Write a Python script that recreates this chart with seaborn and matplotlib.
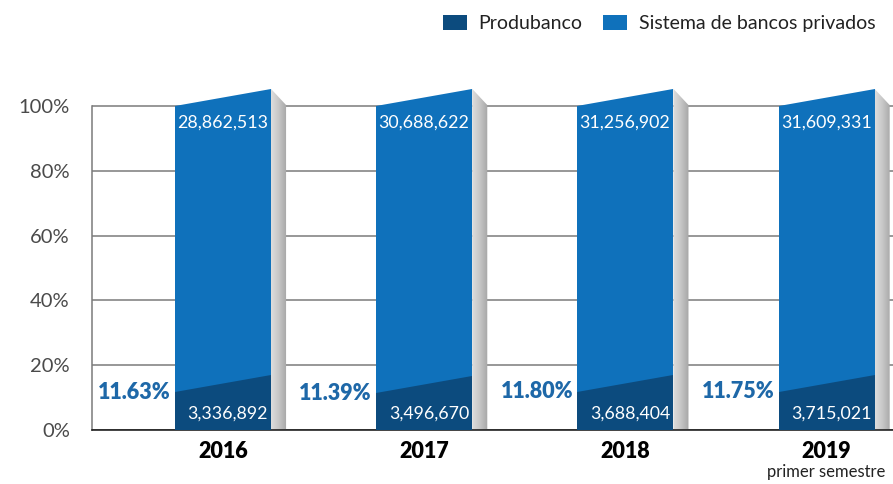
import numpy as np
import matplotlib
matplotlib.use("Agg")
import matplotlib.pyplot as plt
from matplotlib.patches import Polygon, Patch
from matplotlib.colors import LinearSegmentedColormap
import seaborn as sns
import pandas as pd

# ---- data ----
years = ["2016", "2017", "2018", "2019"]
produbanco_pct = [11.63, 11.39, 11.80, 11.75]
produbanco_vals = ["3,336,892", "3,496,670", "3,688,404", "3,715,021"]
sistema_vals = ["28,862,513", "30,688,622", "31,256,902", "31,609,331"]
total_pct = [100, 100, 100, 100]
subtitle_2019 = "primer semestre"
legend_labels = ["Produbanco", "Sistema de bancos privados"]

# ---- style ----
sns.set_theme(style="white")
plt.rcParams["font.family"] = ["Lato", "DejaVu Sans"]

C_DARK = "#0c4b7e"
C_BLUE = "#0f71bb"
C_PCT = "#1e68a8"
C_GRID = "#7a7a7a"

df = pd.DataFrame({"year": years, "total": total_pct, "prod": produbanco_pct})

fig = plt.figure(figsize=(8.93, 4.84), dpi=100)
W, H = 893, 484
px = 3.24  # pixels per percent
ax = fig.add_axes([92 / W, (H - 430) / H, 1 - 92 / W, 110 * px / H])

BW = 0.477
SIDE = 0.075
RISE = 5.3

sns.barplot(data=df, x="year", y="total", color=C_BLUE, width=BW, ax=ax,
            saturation=1, linewidth=0, zorder=2)
sns.barplot(data=df, x="year", y="prod", color=C_DARK, width=BW, ax=ax,
            saturation=1, linewidth=0, zorder=3)

grad = np.linspace(0, 1, 64).reshape(1, -1)
gcmap = LinearSegmentedColormap.from_list("g", ["#dedede", "#c6c6c6", "#a6a6a6"])

for i, p in enumerate(produbanco_pct):
    x0, x1 = i - BW / 2, i + BW / 2
    # slanted top of the big bar
    ax.add_patch(Polygon([(x0, 99.9), (x1, 99.9), (x1, 100 + RISE)], closed=True,
                         facecolor=C_BLUE, edgecolor="none", zorder=2.5))
    # slanted top of the dark segment
    ax.add_patch(Polygon([(x0, p), (x1, p), (x1, p + RISE)], closed=True,
                         facecolor=C_DARK, edgecolor="none", zorder=3.5))
    # side face with gradient
    side = Polygon([(x1, 0), (x1, 100 + RISE), (x1 + SIDE, 100.3), (x1 + SIDE, 0)],
                   closed=True, facecolor="none", edgecolor="none", zorder=2.4)
    ax.add_patch(side)
    im = ax.imshow(grad, extent=(x1, x1 + SIDE, 0, 100 + RISE), cmap=gcmap,
                   aspect="auto", zorder=2.4)
    im.set_clip_path(side)
    # labels
    ax.text(x1 - 0.015, 94.8, sistema_vals[i], ha="right", va="center",
            color="white", fontsize=12.8, zorder=5)
    ax.text(x1 - 0.015, 5.0, produbanco_vals[i], ha="right", va="center",
            color="white", fontsize=12.8, zorder=5)
    ax.text(i - 0.44, p, f"{p:.2f}%", ha="center", va="center",
            color=C_PCT, fontsize=15.5, fontweight="heavy", zorder=5)

ax.set_xlim(-0.651, 3.33)
ax.set_ylim(0, 110)
ax.set_yticks([0, 20, 40, 60, 80, 100])
ax.set_yticklabels([f"{v}%" for v in [0, 20, 40, 60, 80, 100]],
                   fontsize=14.5, color="#4a4a4a")
ax.set_xticks(range(len(years)))
ax.set_xticklabels(years, fontsize=15.5, fontweight="heavy", color="black")
ax.tick_params(axis="x", length=0, pad=8)
ax.tick_params(axis="y", length=2, width=1, color=C_GRID, pad=14)
ax.set_xlabel("")
ax.set_ylabel("")

ax.set_axisbelow(True)
ax.yaxis.grid(True, color=C_GRID, linewidth=1.1)
ax.xaxis.grid(False)
for s in ["top", "right"]:
    ax.spines[s].set_visible(False)
ax.spines["left"].set_bounds(0, 100)
ax.spines["left"].set_color(C_GRID)
ax.spines["left"].set_linewidth(1.1)
ax.spines["bottom"].set_color("#111111")
ax.spines["bottom"].set_linewidth(1.1)

ax.text(3, -13.0, subtitle_2019, ha="center", va="center", fontsize=12,
        color="#222222")

handles = [Patch(facecolor=C_DARK, edgecolor="none"),
           Patch(facecolor=C_BLUE, edgecolor="none")]
fig.legend(handles, legend_labels, loc="upper right", bbox_to_anchor=(1.0, 1.005),
           ncol=2, frameon=False, fontsize=14, handlelength=1.24, handleheight=0.77,
           handletextpad=0.62, columnspacing=1.03, labelcolor="#222222")

fig.savefig("out.png", dpi=100)
